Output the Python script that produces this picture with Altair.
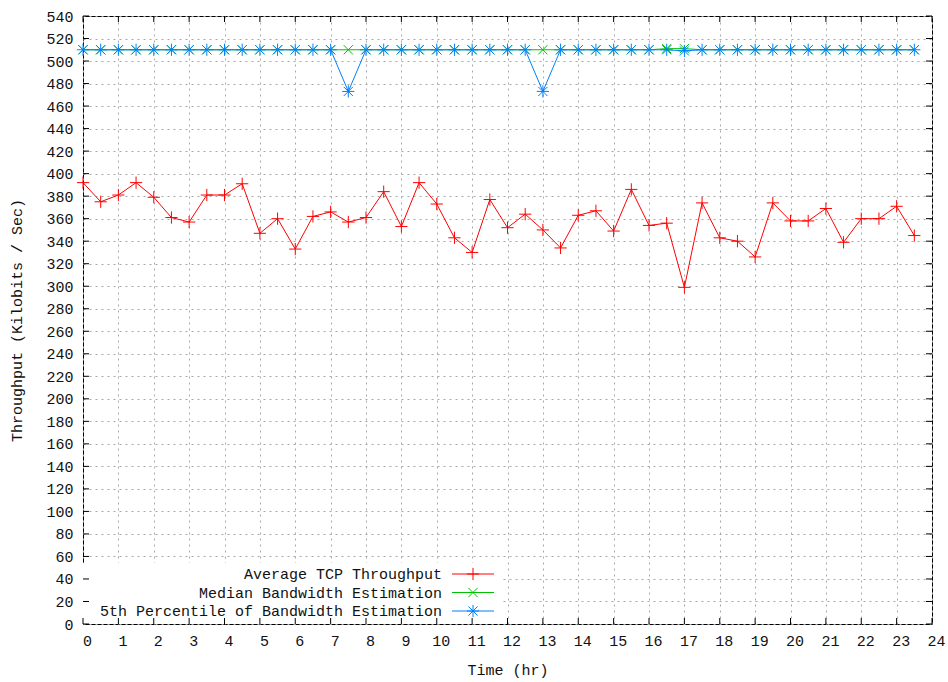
import altair as alt
import pandas as pd

# ---- data ----
hours = [i * 0.5 for i in range(48)]
avg_tcp = [392, 375, 381, 392, 379, 361, 357, 381, 381, 391,
           347, 360, 333, 362, 366, 357, 361, 384, 353, 392,
           373, 343, 330, 377, 352, 364, 350, 334, 363, 367,
           349, 386, 354, 356, 299, 374, 343, 340, 326, 374,
           358, 358, 369, 339, 360, 360, 371, 345]
median_bw = [510] * 33 + [511, 511] + [510] * 13
p5_bw = [510] * 15 + [473] + [510] * 10 + [473] + [510] * 6 + [510, 509] + [510] * 13

series_names = ["Average TCP Throughput", "Median Bandwidth Estimation",
                "5th Percentile of Bandwidth Estimation"]
series_values = [avg_tcp, median_bw, p5_bw]
colors = ["#ff0000", "#00c000", "#0080ff"]
shapes = ["M-1,0L1,0M0,-1L0,1",
          "M-0.75,-0.75L0.75,0.75M-0.75,0.75L0.75,-0.75",
          "M-1,0L1,0M0,-1L0,1M-0.75,-0.75L0.75,0.75M-0.75,0.75L0.75,-0.75"]

xticks = list(range(0, 25))
yticks = list(range(0, 541, 20))

W, H = 849, 608
FONT = "Liberation Mono"

xs = alt.Scale(domain=[0, 24], nice=False, zero=False)
ys = alt.Scale(domain=[0, 540], nice=False, zero=False)

base_axis = dict(grid=True, gridColor="#a8a8a8", gridDash=[2, 4], gridWidth=1,
                 ticks=False, tickSize=0, domain=False,
                 labelOverlap=False, labelBound=False, labelFlush=False,
                 labelFont=FONT, labelFontSize=15, labelColor="#111",
                 titleFont=FONT, titleFontSize=15, titleFontWeight="normal",
                 titleColor="#111")
x_axis = alt.Axis(values=xticks, format="d", title="Time (hr)",
                  labelPadding=9, labelOffset=4, titlePadding=14, **base_axis)
y_axis = alt.Axis(values=yticks, format="d", title="Throughput (Kilobits / Sec)",
                  labelPadding=10, titlePadding=21, **base_axis)


def X(field):
    return alt.X(field, scale=xs, axis=x_axis)


def Y(field):
    return alt.Y(field, scale=ys, axis=y_axis)


layers = []

# series
for name, vals, col, shp in zip(series_names, series_values, colors, shapes):
    df = pd.DataFrame({"hour": hours, "value": vals, "series": name})
    enc = dict(x=X("hour:Q"), y=Y("value:Q"))
    layers.append(alt.Chart(df).mark_line(color=col, strokeWidth=1).encode(**enc))
    layers.append(alt.Chart(df).mark_point(shape=shp, size=150, filled=False,
                                           stroke=col, strokeWidth=1,
                                           opacity=1).encode(**enc))

# opaque key box
box_df = pd.DataFrame({"k": [0]})
layers.append(
    alt.Chart(box_df).mark_rect(fill="white").encode(
        x=alt.value(0), x2=alt.value(420), y=alt.value(547), y2=alt.value(H))
)

# inward mirrored ticks
xt_df = pd.DataFrame({"t": xticks})
yt_df = pd.DataFrame({"t": yticks})
tick_style = dict(color="#000", strokeWidth=1)
layers.append(alt.Chart(yt_df).mark_rule(**tick_style).encode(
    y=Y("t:Q"), x=alt.value(0), x2=alt.value(6)))
layers.append(alt.Chart(yt_df).mark_rule(**tick_style).encode(
    y=Y("t:Q"), x=alt.value(W - 6), x2=alt.value(W)))
layers.append(alt.Chart(xt_df).mark_rule(**tick_style).encode(
    x=X("t:Q"), y=alt.value(H - 6), y2=alt.value(H)))
layers.append(alt.Chart(xt_df).mark_rule(**tick_style).encode(
    x=X("t:Q"), y=alt.value(0), y2=alt.value(6)))

# key entries
for i, (name, col, shp) in enumerate(zip(series_names, colors, shapes)):
    ky = 558 + 18.5 * i
    kdf = pd.DataFrame({"name": [name]})
    layers.append(alt.Chart(kdf).mark_text(align="right", baseline="middle",
                                           font=FONT, fontSize=15, color="#111").encode(
        text="name:N", x=alt.value(359), y=alt.value(ky)))
    layers.append(alt.Chart(kdf).mark_rule(color=col, strokeWidth=1).encode(
        x=alt.value(369), x2=alt.value(411), y=alt.value(ky)))
    layers.append(alt.Chart(kdf).mark_point(shape=shp, size=150, filled=False,
                                            stroke=col, strokeWidth=1, opacity=1).encode(
        x=alt.value(390), y=alt.value(ky)))

chart = alt.layer(*layers).properties(
    width=W, height=H,
    autosize=alt.AutoSizeParams(type="none"),
    padding={"left": 83, "top": 16, "right": 948 - 83 - W, "bottom": 682 - 16 - H},
    background="white",
).configure_view(stroke="#000", strokeWidth=1).configure_axis(labelOverlap=False)

chart.save("out.html", embed_options={"renderer": "svg", "actions": False})
